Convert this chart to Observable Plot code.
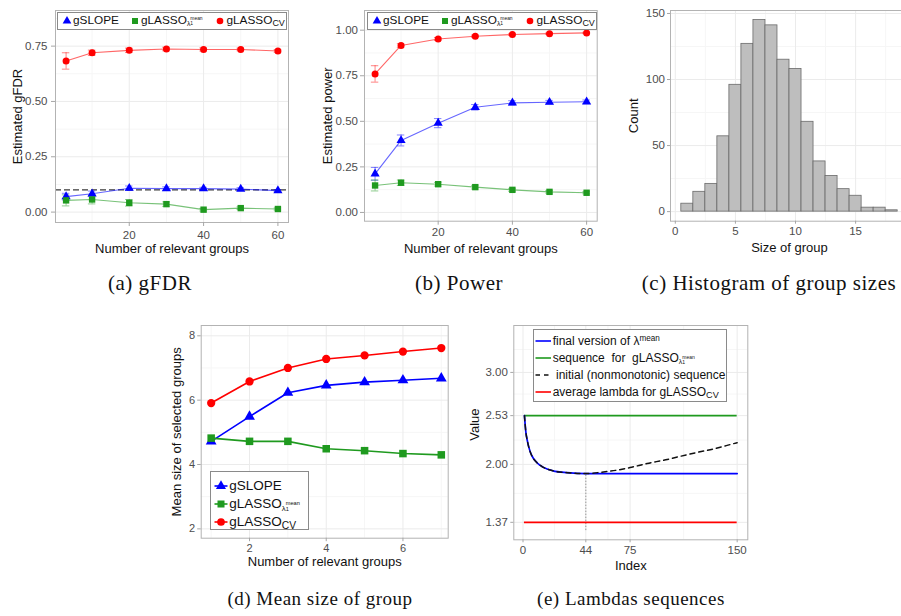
<!DOCTYPE html>
<html><head><meta charset="utf-8">
<script src="https://cdn.jsdelivr.net/npm/d3@7"></script>
<script src="https://cdn.jsdelivr.net/npm/@observablehq/plot@0.6"></script>
<style>
body{margin:0;background:#fff;}
#root{position:relative;width:901px;height:616px;overflow:hidden;background:#fff;font-family:"Liberation Sans",Arial,sans-serif;}
.panel{position:absolute;}
.panel svg{display:block;max-width:none;background:transparent;}
.legend{position:absolute;border:1px solid #8a8a8a;background:#fff;box-sizing:border-box;}
.lgt{position:absolute;white-space:pre;line-height:1;color:#111;transform:translateY(-50%);}
.lam{position:relative;font-size:0.58em;top:0.35em;margin-right:1.9em;}
.lam .up{position:absolute;left:100%;top:-0.5em;font-size:0.72em;}
.lam .dn{position:absolute;left:100%;top:0.45em;font-size:0.72em;}
.sp{position:relative;top:-0.5em;font-size:0.68em;}
.sbcv{position:relative;top:0.3em;font-size:0.76em;}
</style></head>
<body><div id="root"></div>
<script>
// ---------------- data ----------------
const nGroups = [3, 10, 20, 30, 40, 50, 60];
const fdrGSLOPE     = [0.070, 0.083, 0.108, 0.106, 0.106, 0.104, 0.097];
const fdrGLassoMean = [0.053, 0.057, 0.042, 0.036, 0.011, 0.018, 0.014];
const fdrGLassoCV   = [0.683, 0.720, 0.731, 0.737, 0.735, 0.735, 0.728];
const fdrErrGSLOPE     = [0.015, 0.012, 0.010, 0.008, 0.006, 0.006, 0.005];
const fdrErrGLassoMean = [0.025, 0.020, 0.015, 0.010, 0.006, 0.006, 0.005];
const fdrErrGLassoCV   = [0.037, 0.012, 0.010, 0.008, 0.007, 0.006, 0.006];
const targetFDR = 0.1;

const powGSLOPE     = [0.212, 0.395, 0.490, 0.577, 0.601, 0.605, 0.607];
const powGLassoMean = [0.148, 0.163, 0.155, 0.139, 0.124, 0.113, 0.108];
const powGLassoCV   = [0.760, 0.916, 0.952, 0.967, 0.976, 0.981, 0.985];
const powErrGSLOPE     = [0.035, 0.030, 0.025, 0.015, 0.012, 0.010, 0.010];
const powErrGLassoMean = [0.030, 0.015, 0.010, 0.010, 0.008, 0.007, 0.006];
const powErrGLassoCV   = [0.045, 0.010, 0.008, 0.006, 0.005, 0.004, 0.004];

const groupSize  = [1, 2, 3, 4, 5, 6, 7, 8, 9, 10, 11, 12, 13, 14, 15, 16, 17, 18];
const groupCount = [6, 15, 21, 57, 96, 127, 145, 141, 115, 108, 68, 38, 27, 17, 12, 3, 3, 1];

const relGroups = [1, 2, 3, 4, 5, 6, 7];
const sizeGSLOPE     = [4.72, 5.49, 6.23, 6.46, 6.56, 6.62, 6.68];
const sizeGLassoMean = [4.82, 4.72, 4.72, 4.49, 4.43, 4.34, 4.30];
const sizeGLassoCV   = [5.91, 6.58, 7.00, 7.28, 7.39, 7.51, 7.62];

const lambdaIdx  = [1, 2, 3, 4, 6, 10, 14, 21, 31, 44];
const lambdaHead = [2.53, 2.35, 2.26, 2.19, 2.10, 2.015, 1.97, 1.93, 1.91, 1.90];
const initialTailIdx = [55, 65, 75, 87, 100, 110, 122, 134, 145, 150];
const initialTail    = [1.915, 1.935, 1.965, 2.01, 2.05, 2.087, 2.13, 2.17, 2.215, 2.236];
const finalTailIdx = [150];
const finalTail    = [1.90];
const lambdaGLasso = 2.53;
const lambdaCV = 1.37;
const nLambda = 150;
const switchIdx = 44;
const dottedBottom = 1.28;

const ticksA = {x: [20, 40, 60], xMinor: [10, 30, 50], y: [0, 0.25, 0.5, 0.75], yMinor: [0.125, 0.375, 0.625, 0.875]};
const ticksB = {x: [20, 40, 60], xMinor: [10, 30, 50], y: [0, 0.25, 0.5, 0.75, 1], yMinor: [0.125, 0.375, 0.625, 0.875]};
const ticksC = {x: [0, 5, 10, 15], xMinor: [2.5, 7.5, 12.5, 17.5], y: [0, 50, 100, 150], yMinor: [25, 75, 125]};
const ticksD = {x: [2, 4, 6], xMinor: [1, 3, 5, 7], y: [2, 4, 6, 8], yMinor: [3, 5, 7]};
const ticksE = {x: [0, 44, 75, 150], xMinor: [22, 59.5, 112.5], y: [1.37, 2.00, 2.53, 3.00], yMinor: [1.685, 2.265, 2.765, 3.25]};

// ---------------- styles ----------------
const MAJOR = "#ebebeb", MINOR = "#f6f6f6", BORDER = "#b3b3b3", TICK = "#a6a6a6", TICKTXT = "#4d4d4d", TITLE = "#111";
const BLUE = "#0000ff", GREEN = "#1f9a1f", RED = "#ff0000";
const series = [
  {color: BLUE,  symbol: "triangle", r: 3.4},
  {color: GREEN, symbol: "square",   r: 3.6},
  {color: RED,   symbol: "circle",   r: 3.5}
];
const SYM = {triangle: d3.symbolTriangle, square: d3.symbolSquare, circle: d3.symbolCircle};

const root = document.getElementById("root");

function panel(o) {
  const ts = o.ts, tp = o.tp, fs = o.tickFont || 11.5;
  const marks = [
    Plot.gridX(o.ticks.xMinor, {stroke: MINOR, strokeOpacity: 1}),
    Plot.gridY(o.ticks.yMinor, {stroke: MINOR, strokeOpacity: 1}),
    Plot.gridX(o.ticks.x, {stroke: MAJOR, strokeOpacity: 1}),
    Plot.gridY(o.ticks.y, {stroke: MAJOR, strokeOpacity: 1}),
    ...o.marks,
    Plot.frame({stroke: BORDER}),
    Plot.axisX(o.ticks.x, {tickSize: ts, tickPadding: tp, tickFormat: o.xFormat, fontSize: fs, stroke: TICK, fill: TICKTXT, label: null}),
    Plot.axisY(o.ticks.y, {tickSize: ts, tickPadding: tp, tickFormat: o.yFormat, fontSize: fs, stroke: TICK, fill: TICKTXT, label: null}),
    Plot.text([o.xLabel], {text: d => d, frameAnchor: "bottom", textAnchor: "middle", lineAnchor: "bottom", dy: o.xLabelDy, fontSize: 13, fill: TITLE}),
    Plot.text([o.yLabel], {text: d => d, frameAnchor: "left", rotate: -90, textAnchor: "middle", lineAnchor: "bottom", dx: -o.yLabelDx, dy: o.yLabelShift || 0, fontSize: 13, fill: TITLE})
  ];
  const svg = Plot.plot({
    width: o.width, height: o.height,
    marginLeft: o.ml, marginRight: o.mr, marginTop: o.mt, marginBottom: o.mb,
    x: {domain: o.xDomain},
    y: {domain: o.yDomain},
    style: {fontFamily: '"Liberation Sans", Arial, sans-serif', background: "transparent", maxWidth: "none", color: TITLE},
    marks
  });
  const d = document.createElement("div");
  d.className = "panel";
  d.style.left = o.left + "px";
  d.style.top = o.top + "px";
  d.appendChild(svg);
  root.appendChild(d);
}

function rowsOf(xs, vals, errs) {
  return xs.map((x, j) => ({x, y: vals[j], e: errs ? errs[j] : 0}));
}

function seriesMarks(rowSets, opts) {
  const out = [];
  rowSets.forEach((rows, i) => {
    const s = series[i];
    if (opts.err) {
      out.push(Plot.ruleX(rows, {x: "x", y1: d => d.y - d.e, y2: d => d.y + d.e, stroke: s.color, strokeOpacity: 0.55, strokeWidth: 0.9}));
      out.push(Plot.ruleY(rows, {y: d => d.y - d.e, x1: d => d.x - opts.cap, x2: d => d.x + opts.cap, stroke: s.color, strokeOpacity: 0.55, strokeWidth: 0.9}));
      out.push(Plot.ruleY(rows, {y: d => d.y + d.e, x1: d => d.x - opts.cap, x2: d => d.x + opts.cap, stroke: s.color, strokeOpacity: 0.55, strokeWidth: 0.9}));
    }
    out.push(Plot.line(rows, {x: "x", y: "y", stroke: s.color, strokeOpacity: opts.lineOpacity, strokeWidth: opts.lineWidth}));
  });
  rowSets.forEach((rows, i) => {
    const s = series[i];
    out.push(Plot.dot(rows, {x: "x", y: "y", symbol: s.symbol, fill: s.color, stroke: "none", r: s.r * (opts.scale || 1)}));
  });
  return out;
}

// ---------------- (a) gFDR ----------------
panel({
  left: 0, top: 0, width: 300, height: 260, ml: 55, mr: 12, mt: 10, mb: 38,
  xDomain: [0.15, 62.85], yDomain: [-0.047, 0.911], ticks: ticksA, ts: 4, tp: 4,
  yFormat: d3.format(".2f"), xFormat: d3.format("d"),
  xLabel: "Number of relevant groups", xLabelDy: 30,
  yLabel: "Estimated gFDR", yLabelDx: 33.5,
  marks: [
    Plot.ruleY([targetFDR], {stroke: "#3a3a3a", strokeWidth: 1.2, strokeDasharray: "6,3"}),
    ...seriesMarks([
      rowsOf(nGroups, fdrGSLOPE, fdrErrGSLOPE),
      rowsOf(nGroups, fdrGLassoMean, fdrErrGLassoMean),
      rowsOf(nGroups, fdrGLassoCV, fdrErrGLassoCV)
    ], {err: true, cap: 1, lineOpacity: 0.6, lineWidth: 1.1})
  ]
});

// ---------------- (b) Power ----------------
panel({
  left: 300, top: 0, width: 310, height: 260, ml: 64, mr: 13.3, mt: 10, mb: 39.3,
  xDomain: [0.15, 62.85], yDomain: [-0.048, 1.108], ticks: ticksB, ts: 4, tp: 2.5,
  yFormat: d3.format(".2f"), xFormat: d3.format("d"),
  xLabel: "Number of relevant groups", xLabelDy: 31.3,
  yLabel: "Estimated power", yLabelDx: 33,
  marks: seriesMarks([
    rowsOf(nGroups, powGSLOPE, powErrGSLOPE),
    rowsOf(nGroups, powGLassoMean, powErrGLassoMean),
    rowsOf(nGroups, powGLassoCV, powErrGLassoCV)
  ], {err: true, cap: 1, lineOpacity: 0.6, lineWidth: 1.1})
});

// ---------------- (c) Histogram ----------------
const histRows = groupSize.map((s, i) => ({size: s, count: groupCount[i]}));
panel({
  left: 610, top: 0, width: 300, height: 260, ml: 60, mr: 2, mt: 10, mb: 39.3,
  xDomain: [-0.4, 19.4], yDomain: [-7.25, 152.25], ticks: ticksC, ts: 3, tp: 2.5,
  xFormat: d3.format("d"), yFormat: d3.format("d"),
  xLabel: "Size of group", xLabelDy: 30.3,
  yLabel: "Count", yLabelDx: 32.5,
  marks: [
    Plot.rect(histRows, {x1: d => d.size - 0.5, x2: d => d.size + 0.5, y1: 0, y2: "count", fill: "#bebebe", stroke: "#6a6a6a", strokeWidth: 0.8})
  ]
});

// ---------------- (d) Mean size ----------------
panel({
  left: 150, top: 310, width: 310, height: 270, ml: 50.7, mr: 12.3, mt: 15, mb: 42.3,
  xDomain: [0.74, 7.18], yDomain: [1.71, 8.32], ticks: ticksD, ts: 3.5, tp: 2.5, tickFont: 11,
  xFormat: d3.format("d"), yFormat: d3.format("d"),
  xLabel: "Number of relevant groups", xLabelDy: 27.3,
  yLabel: "Mean size of selected groups", yLabelDx: 20.7,
  marks: seriesMarks([
    rowsOf(relGroups, sizeGSLOPE),
    rowsOf(relGroups, sizeGLassoMean),
    rowsOf(relGroups, sizeGLassoCV)
  ], {err: false, lineOpacity: 1, lineWidth: 1.6, scale: 1.18})
});

// ---------------- (e) Lambdas ----------------
const finalRows = [...rowsOf(lambdaIdx, lambdaHead), ...rowsOf(finalTailIdx, finalTail)];
const initialRows = [...rowsOf(lambdaIdx, lambdaHead), ...rowsOf(initialTailIdx, initialTail)];
panel({
  left: 460, top: 310, width: 300, height: 270, ml: 53.3, mr: 12.7, mt: 15, mb: 40.7,
  xDomain: [-6.45, 157.45], yDomain: [1.18, 3.51], ticks: ticksE, ts: 3, tp: 3,
  xFormat: d3.format("d"), yFormat: d3.format(".2f"),
  xLabel: "Index", xLabelDy: 29.7,
  yLabel: "Value", yLabelDx: 35.3, yLabelShift: -8,
  marks: [
    Plot.ruleX([switchIdx], {y1: dottedBottom, y2: lambdaHead[lambdaHead.length - 1], stroke: "#8c8c8c", strokeWidth: 0.9, strokeDasharray: "1.5,1.5"}),
    Plot.ruleY([lambdaGLasso], {x1: 1, x2: nLambda, stroke: GREEN, strokeWidth: 1.7}),
    Plot.ruleY([lambdaCV], {x1: 1, x2: nLambda, stroke: RED, strokeWidth: 1.7}),
    Plot.line(finalRows, {x: "x", y: "y", stroke: BLUE, strokeWidth: 1.7, curve: "monotone-x"}),
    Plot.line(initialRows, {x: "x", y: "y", stroke: "#111", strokeWidth: 1.5, strokeDasharray: "5,4", curve: "monotone-x"})
  ]
});

// ---------------- legends ----------------
function box(l, t, w, h) {
  const d = document.createElement("div");
  d.className = "legend";
  Object.assign(d.style, {left: l + "px", top: t + "px", width: w + "px", height: h + "px"});
  root.appendChild(d);
}
function keyAt(px, py, o) {
  const svg = d3.select(root).append("svg")
    .style("position", "absolute").style("left", (px - 20) + "px").style("top", (py - 10) + "px")
    .style("overflow", "visible").attr("width", 40).attr("height", 20);
  if (o.line) svg.append("line").attr("x1", 20 + o.line[0]).attr("x2", 20 + o.line[1]).attr("y1", 10).attr("y2", 10)
    .attr("stroke", o.color).attr("stroke-width", o.lw || 1.6).attr("stroke-dasharray", o.dash || null);
  if (o.symbol) svg.append("path").attr("d", d3.symbol(SYM[o.symbol], Math.PI * o.r * o.r)())
    .attr("transform", "translate(20,10)").attr("fill", o.color);
}
function textAt(px, py, html, fs) {
  const s = document.createElement("span");
  s.className = "lgt";
  s.style.left = px + "px";
  s.style.top = py + "px";
  s.style.fontSize = fs + "px";
  s.innerHTML = html;
  root.appendChild(s);
}
const LAB_SLOPE = "gSLOPE";
const LAB_MEAN = 'gLASSO<span class="lam">λ<span class="up">mean</span><span class="dn">1</span></span>';
const LAB_CV = 'gLASSO<span class="sbcv">CV</span>';
const labs = [LAB_SLOPE, LAB_MEAN, LAB_CV];

// (a) and (b) horizontal legends
[57, 367].forEach(bl => {
  box(bl, 11.5, 230, 18);
  const kx = [bl + 10, bl + 78, bl + 163];
  const tx = [bl + 16, bl + 84, bl + 169.5];
  series.forEach((s, i) => {
    keyAt(kx[i], 20.5, {symbol: s.symbol, color: s.color, r: s.r * 0.95});
    textAt(tx[i], 20.5, labs[i], 11.8);
  });
});

// (d) vertical legend
box(210, 471, 99, 59);
const dRows = [485.7, 504.3, 522.3];
series.forEach((s, i) => {
  keyAt(220.5, dRows[i], {symbol: s.symbol, color: s.color, r: s.r * 1.1, line: [-6.5, 6.5], lw: 1.6});
  textAt(229.3, dRows[i], labs[i], 13.5);
});

// (e) legend
box(532.7, 328.5, 194, 73.5);
const eRows = [341, 357.5, 374.5, 391.5];
const eKeys = [
  {color: BLUE, line: [-7.5, 8]},
  {color: GREEN, line: [-7.5, 8]},
  {color: "#111", line: [-7.5, 6], dash: "4.5,4"},
  {color: RED, line: [-7.5, 8]}
];
const eLabs = [
  'final version of λ<span class="sp">mean</span>',
  'sequence  for  gLASSO<span class="lam">λ<span class="up">mean</span><span class="dn">1</span></span>',
  ' initial (nonmonotonic) sequence',
  'average lambda for gLASSO<span class="sbcv">CV</span>'
];
eRows.forEach((y, i) => {
  keyAt(543, y, {...eKeys[i], lw: 1.6});
  textAt(552.7, y, eLabs[i], 12);
});

// ---------------- captions ----------------
const captions = [
  {t: "(a) gFDR", x: 150, y: 290, fs: 21},
  {t: "(b) Power", x: 459, y: 290, fs: 21},
  {t: "(c) Histogram of group sizes", x: 769, y: 290, fs: 21},
  {t: "(d) Mean size of group", x: 320, y: 605, fs: 19},
  {t: "(e) Lambdas sequences", x: 631, y: 605, fs: 19}
];
const cap = d3.select(root).append("svg")
  .style("position", "absolute").style("left", "0px").style("top", "0px")
  .attr("width", 901).attr("height", 616).style("pointer-events", "none");
cap.selectAll("text").data(captions).join("text")
  .attr("x", d => d.x).attr("y", d => d.y).attr("text-anchor", "middle")
  .attr("font-family", '"Liberation Serif", "Times New Roman", serif')
  .attr("font-size", d => d.fs).attr("letter-spacing", 0.5).attr("fill", "#111")
  .text(d => d.t);
</script>
</body></html>
